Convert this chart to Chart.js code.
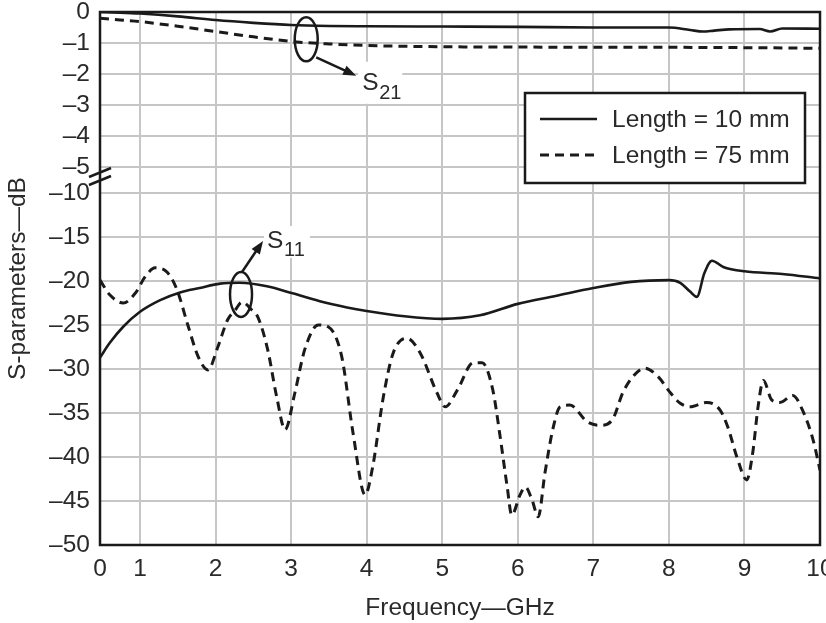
<!DOCTYPE html>
<html>
<head>
<meta charset="utf-8">
<script src="https://cdn.jsdelivr.net/npm/chart.js@4.4.1/dist/chart.umd.min.js"></script>
<style>
  html, body { margin: 0; background: #fff; }
  #wrap { width: 826px; height: 623px; }
</style>
</head>
<body>
<div id="wrap"><canvas id="chart" width="826" height="623"></canvas></div>
<script>
const FREQ_TICKS = [0, 1, 2, 3, 4, 5, 6, 7, 8, 9, 10];
const DB_TICKS = [0, -1, -2, -3, -4, -5, -10, -15, -20, -25, -30, -35, -40, -45, -50];

// S21, length 10 mm
const s21ShortFreq = [0, 0.5, 1, 1.5, 2, 2.5, 3, 3.5, 4, 5, 6, 7, 8, 8.28, 8.45, 8.6, 8.8, 9.2, 9.34, 9.5, 10];
const s21ShortDb = [0, -0.02, -0.05, -0.14, -0.26, -0.35, -0.42, -0.45, -0.46, -0.47, -0.48, -0.5, -0.5, -0.58, -0.63, -0.6, -0.56, -0.55, -0.63, -0.53, -0.54];

// S21, length 75 mm
const s21LongFreq = [0, 0.5, 1, 1.5, 2, 2.5, 3, 3.5, 4, 5, 6, 7, 8, 9, 10];
const s21LongDb = [-0.2, -0.26, -0.31, -0.46, -0.63, -0.8, -0.95, -1.03, -1.08, -1.12, -1.13, -1.14, -1.14, -1.15, -1.17];

// S11, length 10 mm
const s11ShortFreq = [0, 0.25, 0.58, 1.0, 1.26, 1.53, 1.79, 2.06, 2.32, 2.68, 3.02, 3.38, 3.74, 4.0, 4.5, 5.0, 5.5, 6.0, 6.5, 7.0, 7.5, 8.0, 8.15, 8.28, 8.37, 8.47, 8.57, 8.72, 9.0, 9.5, 10];
const s11ShortDb = [-28.7, -27.0, -25.2, -23.5, -22.2, -21.3, -20.8, -20.3, -20.2, -20.6, -21.4, -22.3, -23.0, -23.4, -24.0, -24.3, -23.9, -22.6, -21.7, -20.8, -20.1, -19.9, -20.2, -21.2, -21.8, -19.1, -17.7, -18.4, -18.9, -19.2, -19.7];

// S11, length 75 mm
const s11LongFreq = [0, 0.25, 0.58, 0.88, 1.07, 1.2, 1.36, 1.49, 1.64, 1.77, 1.9, 2.03, 2.16, 2.26, 2.35, 2.48, 2.56, 2.69, 2.81, 2.92, 3.05, 3.18, 3.36, 3.49, 3.67, 3.82, 3.98, 4.08, 4.22, 4.35, 4.53, 4.71, 4.93, 5.04, 5.2, 5.41, 5.53, 5.67, 5.76, 5.86, 5.92, 6.03, 6.1, 6.19, 6.27, 6.36, 6.47, 6.56, 6.69, 6.92, 7.09, 7.25, 7.39, 7.52, 7.68, 7.86, 8.01, 8.15, 8.28, 8.5, 8.68, 8.78, 8.9, 9.03, 9.11, 9.18, 9.25, 9.36, 9.47, 9.64, 9.77, 9.91, 10];
const s11LongDb = [-19.9, -21.6, -22.5, -21.4, -19.5, -18.5, -19.0, -21.0, -25.2, -28.6, -30.1, -27.5, -24.4, -23.3, -22.4, -23.3, -24.1, -27.8, -33.2, -36.9, -32.7, -27.8, -25.0, -25.2, -28.6, -37.3, -44.3, -41.1, -33.2, -28.2, -26.5, -28.2, -32.7, -34.3, -32.4, -29.3, -29.3, -32.4, -37.3, -43.4, -46.6, -44.3, -43.4, -44.9, -46.8, -41.8, -36.6, -34.3, -34.1, -36.0, -36.4, -35.8, -32.7, -30.9, -29.9, -30.9, -32.6, -33.9, -34.3, -33.8, -34.7, -36.6, -40.0, -42.6, -39.5, -34.3, -31.3, -33.5, -33.8, -33.0, -34.7, -38.1, -41.5];

const FONT = '"Liberation Sans", Arial, sans-serif';
const SIZE = 24.5;
const INK = "#1a1a1a";
const TEXT = "#2a2a2a";

// piecewise-linear axes: x has a compressed 0-1 GHz span, y has a break between -5 and -10 dB
const KNOTS = {
  x: { values: [0, 1, 10], fracs: [0, 40 / 720, 1] },
  y: { values: [-50, -10, -5, 0], fracs: [0, 352 / 533, 378 / 533, 1] }
};

function piecewise(from, to, v) {
  for (let i = 1; i < from.length; i++) {
    if (v <= from[i] || i === from.length - 1) {
      const t = (v - from[i - 1]) / (from[i] - from[i - 1]);
      return to[i - 1] + t * (to[i] - to[i - 1]);
    }
  }
  return to[0];
}

class BrokenScale extends Chart.LinearScale {
  getPixelForValue(value) {
    const k = KNOTS[this.id];
    return this.getPixelForDecimal(piecewise(k.values, k.fracs, value));
  }
  getValueForPixel(pixel) {
    const k = KNOTS[this.id];
    return piecewise(k.fracs, k.values, this.getDecimalForPixel(pixel));
  }
}
BrokenScale.id = "broken";
BrokenScale.defaults = Chart.LinearScale.defaults;
Chart.register(BrokenScale);

function series(label, freq, db, dashed) {
  return {
    label,
    data: freq.map((f, i) => ({ x: f, y: db[i] })),
    borderColor: INK,
    borderWidth: dashed ? 3 : 2.6,
    borderDash: dashed ? [9, 6] : [],
    pointRadius: 0,
    cubicInterpolationMode: "monotone",
    fill: false
  };
}

const dashLabel = v => (v < 0 ? "\u2013" + Math.abs(v) : String(v));

function arrow(ctx, x0, y0, x1, y1) {
  const ang = Math.atan2(y1 - y0, x1 - x0);
  const len = 13, half = 5;
  ctx.beginPath();
  ctx.moveTo(x0, y0);
  ctx.lineTo(x1 - Math.cos(ang) * len * 0.8, y1 - Math.sin(ang) * len * 0.8);
  ctx.stroke();
  ctx.beginPath();
  ctx.moveTo(x1, y1);
  ctx.lineTo(x1 - Math.cos(ang) * len - Math.sin(ang) * half, y1 - Math.sin(ang) * len + Math.cos(ang) * half);
  ctx.lineTo(x1 - Math.cos(ang) * len + Math.sin(ang) * half, y1 - Math.sin(ang) * len - Math.cos(ang) * half);
  ctx.closePath();
  ctx.fill();
}

function callout(ctx, cx, cy, rx, ry, start, tip, sub, box) {
  ctx.beginPath();
  ctx.ellipse(cx, cy, rx, ry, 0, 0, Math.PI * 2);
  ctx.stroke();
  ctx.fillStyle = "#fff";
  ctx.fillRect(tip[0] + box[0], tip[1] + box[1], box[2], box[3]);
  ctx.fillStyle = INK;
  arrow(ctx, cx + start[0], cy + start[1], tip[0], tip[1]);
  ctx.fillStyle = TEXT;
  ctx.textAlign = "left";
  ctx.textBaseline = "alphabetic";
  ctx.font = SIZE + "px " + FONT;
  ctx.fillText("S", tip[0] + sub.sx, tip[1] + sub.sy);
  ctx.font = "20px " + FONT;
  ctx.fillText(sub.text, tip[0] + sub.tx, tip[1] + sub.ty);
}

const decorations = {
  id: "decorations",
  afterDatasetsDraw(chart) {
    const { ctx, chartArea: a, scales: { x, y } } = chart;
    ctx.save();
    ctx.strokeStyle = INK;
    ctx.fillStyle = INK;
    ctx.lineWidth = 2.5;
    ctx.strokeRect(a.left, a.top, a.width, a.height);

    // axis break marks
    const yb = (y.getPixelForValue(-5) + y.getPixelForValue(-10)) / 2;
    [-7.5, 0.5].forEach(d => {
      ctx.beginPath();
      ctx.moveTo(a.left - 11, yb + d + 4.5);
      ctx.lineTo(a.left + 11, yb + d - 4.5);
      ctx.stroke();
    });

    // S21 callout
    const c21 = [x.getPixelForValue(3.2), y.getPixelForValue(-0.88)];
    callout(ctx, c21[0], c21[1], 11.5, 22, [10, 18], [c21[0] + 50, c21[1] + 36.5],
      { text: "21", sx: 6, sy: 14, tx: 23, ty: 23 }, [2, -14, 44, 42]);

    // S11 callout
    const c11 = [x.getPixelForValue(2.337), y.getPixelForValue(-21.53)];
    ctx.lineWidth = 2.5;
    callout(ctx, c11[0], c11[1], 11, 22.5, [1, -22.5], [c11[0] + 22, c11[1] - 53.5],
      { text: "11", sx: 4, sy: 7, tx: 21, ty: 15 }, [1, -15, 46, 32]);

    // legend
    const lx = a.right - 295, ly = a.top + 81, lw = 280, lh = 90;
    ctx.fillStyle = "#fff";
    ctx.fillRect(lx, ly, lw, lh);
    ctx.lineWidth = 2.5;
    ctx.strokeStyle = INK;
    ctx.strokeRect(lx, ly, lw, lh);
    ctx.font = SIZE + "px " + FONT;
    ctx.textBaseline = "middle";
    ctx.textAlign = "left";
    [0, 1].forEach((idx, row) => {
      const ds = chart.data.datasets[idx];
      const ry = ly + 26 + row * 36;
      ctx.strokeStyle = ds.borderColor;
      ctx.lineWidth = ds.borderWidth;
      ctx.setLineDash(ds.borderDash);
      ctx.beginPath();
      ctx.moveTo(lx + 15, ry);
      ctx.lineTo(lx + 72, ry);
      ctx.stroke();
      ctx.setLineDash([]);
      ctx.fillStyle = TEXT;
      ctx.fillText(ds.label, lx + 87, ry + 1);
    });
    ctx.restore();
  }
};

new Chart(document.getElementById("chart"), {
  type: "line",
  data: {
    datasets: [
      series("Length = 10 mm", s21ShortFreq, s21ShortDb, false),
      series("Length = 75 mm", s21LongFreq, s21LongDb, true),
      series("Length = 10 mm", s11ShortFreq, s11ShortDb, false),
      series("Length = 75 mm", s11LongFreq, s11LongDb, true)
    ]
  },
  options: {
    responsive: false,
    animation: false,
    events: [],
    layout: { padding: { top: 12, right: 6, left: 0, bottom: 0 } },
    plugins: { legend: { display: false }, tooltip: { enabled: false } },
    scales: {
      x: {
        type: "broken",
        min: 0,
        max: 10,
        afterBuildTicks: s => { s.ticks = FREQ_TICKS.map(v => ({ value: v })); },
        afterFit: s => { s.height = 78; s.paddingLeft = 0; s.paddingRight = 0; },
        ticks: { autoSkip: false, maxRotation: 0, padding: 10, color: TEXT, font: { family: FONT, size: SIZE } },
        grid: { color: "#c6c6c6", lineWidth: 2, drawTicks: false },
        border: { display: false },
        title: { display: true, text: "Frequency\u2014GHz", color: TEXT, padding: { top: 1, bottom: 0 }, font: { family: FONT, size: SIZE } }
      },
      y: {
        type: "broken",
        min: -50,
        max: 0,
        afterBuildTicks: s => { s.ticks = DB_TICKS.map(v => ({ value: v })); },
        afterFit: s => { s.width = 100; s.paddingTop = 0; s.paddingBottom = 0; },
        ticks: { autoSkip: false, padding: 10, color: TEXT, font: { family: FONT, size: SIZE }, callback: dashLabel },
        grid: { color: "#c6c6c6", lineWidth: 2, drawTicks: false },
        border: { display: false },
        title: { display: true, text: "S-parameters\u2014dB", color: TEXT, padding: { top: 4, bottom: 0 }, font: { family: FONT, size: SIZE } }
      }
    }
  },
  plugins: [decorations]
});
</script>
</body>
</html>
